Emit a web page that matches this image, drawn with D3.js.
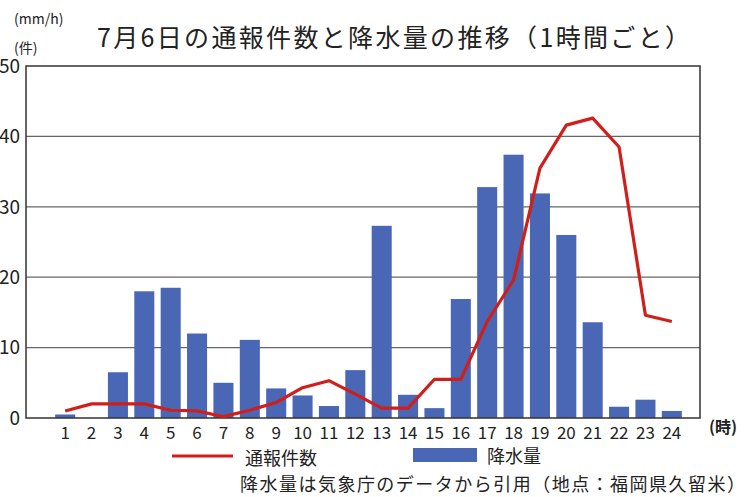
<!DOCTYPE html>
<html>
<head>
<meta charset="utf-8">
<script src="https://cdn.jsdelivr.net/npm/d3@7"></script>
<style>
  body { margin: 0; background: #fff; }
  text { font-family: "Noto Sans CJK JP", "Noto Sans", sans-serif; fill: #222; }
</style>
</head>
<body>
<div id="chart"></div>
<script>
// data
var hours = d3.range(1, 25);
var rainfall = [0.5, 0, 6.5, 18, 18.5, 12, 5, 11.1, 4.2, 3.2, 1.7, 6.8, 27.3, 3.3, 1.4, 16.9, 32.8, 37.4, 31.9, 26, 13.6, 1.6, 2.6, 1];
var reports = [1, 2, 2, 2, 1.1, 1, 0.2, 1.1, 2.2, 4.3, 5.3, 3.4, 1.4, 1.4, 5.5, 5.5, 13.7, 19.6, 35.5, 41.6, 42.6, 38.5, 14.6, 13.7];
var yTicks = [0, 10, 20, 30, 40, 50];

var width = 755, height = 497;
var plotLeft = 26, plotRight = 700, plotTop = 66, plotBottom = 418;

var svg = d3.select("#chart").append("svg")
    .attr("width", width)
    .attr("height", height);

// scales
var x = d3.scaleBand()
    .domain(hours)
    .range([52, 685])
    .paddingInner(0.24)
    .paddingOuter(0.12);

var y = d3.scaleLinear()
    .domain([0, 50])
    .range([plotBottom, plotTop]);

// gridlines
svg.selectAll(".grid")
    .data(yTicks.slice(1, 5))
    .enter().append("line")
    .attr("class", "grid")
    .attr("x1", plotLeft).attr("x2", plotRight)
    .attr("y1", function(d) { return y(d); })
    .attr("y2", function(d) { return y(d); })
    .attr("stroke", "#666")
    .attr("stroke-width", 1.2);

// bars
svg.selectAll(".bar")
    .data(rainfall)
    .enter().append("rect")
    .attr("class", "bar")
    .attr("x", function(d, i) { return x(hours[i]); })
    .attr("y", function(d) { return y(d); })
    .attr("width", x.bandwidth())
    .attr("height", function(d) { return y(0) - y(d); })
    .attr("fill", "#4a67b6");

// frame
svg.append("path")
    .attr("d", "M" + plotLeft + "," + plotBottom + "V" + plotTop + "H" + plotRight + "V" + plotBottom + "Z")
    .attr("fill", "none")
    .attr("stroke", "#333")
    .attr("stroke-width", 1.5);

// report count line
var line = d3.line()
    .x(function(d, i) { return x(hours[i]) + x.bandwidth() / 2; })
    .y(function(d) { return y(d); });

svg.append("path")
    .datum(reports)
    .attr("d", line)
    .attr("fill", "none")
    .attr("stroke", "#d01f1a")
    .attr("stroke-width", 3.2)
    .attr("stroke-linejoin", "round");

// y tick labels
svg.selectAll(".ylab")
    .data(yTicks)
    .enter().append("text")
    .attr("class", "ylab")
    .attr("x", 20)
    .attr("y", function(d) { return y(d); })
    .attr("dy", "0.36em")
    .attr("text-anchor", "end")
    .style("font-size", "19px")
    .text(function(d) { return d; });

// x tick labels
svg.selectAll(".xlab")
    .data(hours)
    .enter().append("text")
    .attr("class", "xlab")
    .attr("x", function(d) { return x(d) + x.bandwidth() / 2; })
    .attr("y", 439)
    .attr("text-anchor", "middle")
    .style("font-size", "17px")
    .text(function(d) { return d; });

svg.append("text")
    .attr("x", 723).attr("y", 433)
    .attr("text-anchor", "middle")
    .style("font-size", "16px")
    .style("font-weight", "bold")
    .text("(時)");

// units
svg.append("text")
    .attr("x", 14).attr("y", 24)
    .style("font-size", "14px")
    .text("(mm/h)");
svg.append("text")
    .attr("x", 14).attr("y", 53)
    .style("font-size", "14px")
    .text("(件)");

// title
svg.append("text")
    .attr("x", 97).attr("y", 47)
    .attr("textLength", 593)
    .style("font-size", "25px")
    .text("7月6日の通報件数と降水量の推移（1時間ごと）");

// legend
svg.append("line")
    .attr("x1", 172).attr("x2", 233)
    .attr("y1", 456).attr("y2", 456)
    .attr("stroke", "#d01f1a")
    .attr("stroke-width", 3.2);
svg.append("text")
    .attr("x", 245).attr("y", 465)
    .style("font-size", "18px")
    .text("通報件数");

svg.append("rect")
    .attr("x", 413).attr("y", 448)
    .attr("width", 64).attr("height", 14)
    .attr("fill", "#4a67b6");
svg.append("text")
    .attr("x", 487).attr("y", 463)
    .style("font-size", "18px")
    .text("降水量");

// source note
svg.append("text")
    .attr("x", 240).attr("y", 491)
    .attr("textLength", 505)
    .style("font-size", "18px")
    .text("降水量は気象庁のデータから引用（地点：福岡県久留米）");
</script>
</body>
</html>
